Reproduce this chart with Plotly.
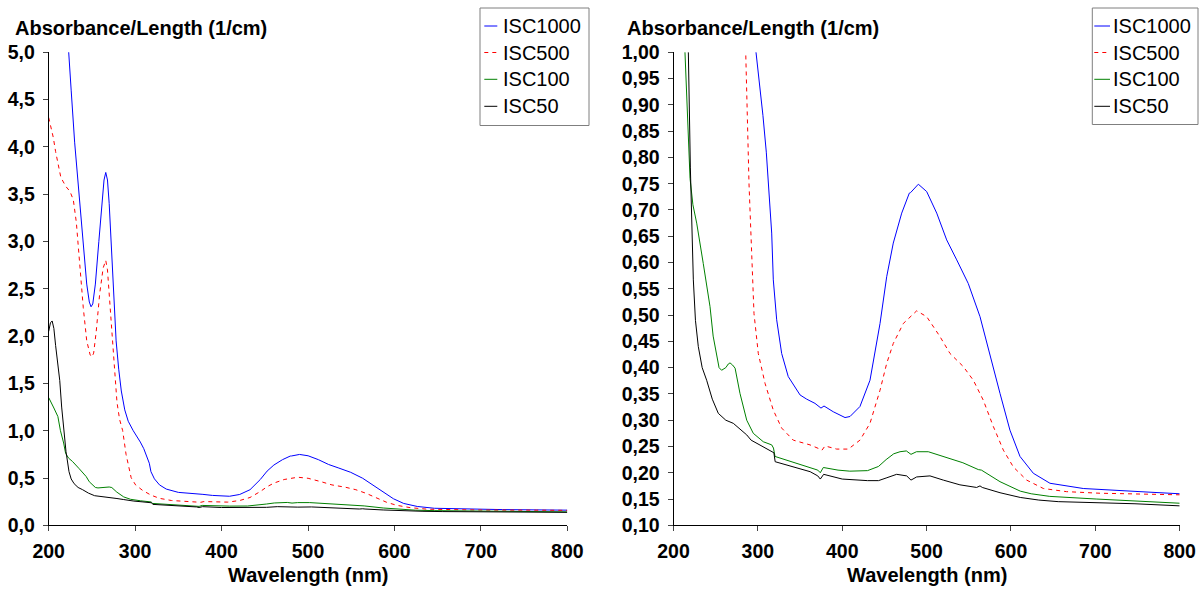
import plotly.graph_objects as go

# ---------------- data ----------------
series_names = ["ISC1000", "ISC500", "ISC100", "ISC50"]

wl_isc1000 = [221, 223.5, 226, 230, 236, 240, 244, 247, 249, 251, 254, 258, 262, 264, 266, 268, 270, 272,
              275, 278, 281, 284, 288, 292, 297.8, 302, 306, 310, 312.4, 316.4, 318.3, 322.3, 328.2, 336,
              350, 357.9, 367.7, 374.8, 378.4, 389.4, 403.3, 409.2, 421, 432.9, 444.8, 452.7, 460.5,
              470.5, 479.5, 481, 490.2, 500.1, 512, 523.8, 535.7, 549.4, 563.3, 575.1, 587, 598.8,
              610.7, 626.5, 646.2, 685.7, 725.3, 764.8, 800]
abs_isc1000 = [5.3, 5.0, 4.6, 4.05, 3.44, 2.95, 2.55, 2.36, 2.31, 2.34, 2.55, 3.0, 3.45, 3.65, 3.73, 3.65,
               3.4, 3.0, 2.4, 1.95, 1.65, 1.42, 1.22, 1.1, 1.0, 0.94, 0.88, 0.81, 0.757, 0.656, 0.567,
               0.491, 0.427, 0.383, 0.348, 0.340, 0.332, 0.323, 0.327, 0.316, 0.305, 0.307, 0.326, 0.376,
               0.484, 0.573, 0.637, 0.694, 0.732, 0.733, 0.749, 0.735, 0.694, 0.643, 0.605, 0.560, 0.497,
               0.427, 0.351, 0.281, 0.231, 0.199, 0.180, 0.170, 0.166, 0.163, 0.160]

wl_isc500 = [200, 203, 205.3, 208, 211.1, 214, 216.9, 220, 224.6, 228.5, 232, 236, 240, 244, 248, 250,
             252, 255, 259, 263, 266, 268, 270, 273, 276, 279, 282, 285.6, 289.5, 292.7, 295.4, 300.5,
             308.5, 318.3, 328.2, 342, 361.8, 373.6, 376, 379.6, 393.4, 407.2, 421, 432.9, 444.8, 452.7,
             460.5, 472.4, 488.2, 500.1, 515.9, 527.7, 543.5, 555.4, 567.2, 579.1, 591, 602.8, 618.6,
             638.4, 666, 705.6, 757, 800]
abs_isc500 = [4.31, 4.2, 4.1, 3.95, 3.79, 3.68, 3.63, 3.58, 3.53, 3.44, 3.2, 2.75, 2.3, 1.95, 1.8, 1.78,
              1.82, 2.05, 2.45, 2.72, 2.8, 2.7, 2.45, 2.0, 1.6, 1.3, 1.12, 1.0, 0.75, 0.63, 0.503, 0.427,
              0.370, 0.319, 0.285, 0.262, 0.253, 0.245, 0.243, 0.251, 0.245, 0.245, 0.262, 0.294, 0.357,
              0.408, 0.446, 0.484, 0.508, 0.497, 0.459, 0.427, 0.402, 0.376, 0.338, 0.288, 0.243, 0.211,
              0.186, 0.170, 0.164, 0.161, 0.160, 0.158]

wl_isc100 = [200, 203, 206, 210.6, 213.6, 217.3, 219.6, 223, 227.5, 235.3, 243.3, 247, 251.2, 254, 257,
             262, 265, 267, 270, 273, 278.8, 286.8, 294.6, 306.4, 316.4, 318.5, 320.3, 334, 357.9, 371,
             374, 377.6, 395, 409, 430, 443, 452, 461, 468.5, 476, 481.5, 488, 502, 520, 543, 561.3, 565,
             587, 611, 624, 646, 701, 747, 800]
abs_isc100 = [1.35, 1.3, 1.24, 1.15, 1.0, 0.87, 0.76, 0.71, 0.675, 0.598, 0.516, 0.46, 0.421, 0.40, 0.395,
              0.400, 0.407, 0.409, 0.405, 0.399, 0.351, 0.300, 0.275, 0.259, 0.253, 0.247, 0.231, 0.224,
              0.2115, 0.205, 0.200, 0.210, 0.205, 0.203, 0.204, 0.212, 0.225, 0.236, 0.240, 0.2415, 0.235,
              0.240, 0.240, 0.231, 0.219, 0.206, 0.205, 0.183, 0.165, 0.160, 0.155, 0.150, 0.146, 0.142]

wl_isc50 = [200, 202, 204, 206, 208, 210, 212.8, 215, 217.6, 220, 223.5, 226, 229.4, 234, 239.3, 246,
            253.1, 262, 270.9, 279, 286.8, 292, 298.6, 308, 316.4, 319, 320.5, 339, 362, 371, 374, 378,
            400, 430, 443, 452, 464.5, 476.4, 481.5, 488.2, 504, 519.8, 539.5, 559.3, 563.3, 566, 587,
            611, 633, 656, 701, 747, 800]
abs_isc50 = [2.05, 2.14, 2.16, 2.08, 1.9, 1.72, 1.53, 1.25, 1.0, 0.78, 0.567, 0.49, 0.44, 0.40, 0.376, 0.34,
             0.313, 0.300, 0.294, 0.283, 0.272, 0.262, 0.256, 0.248, 0.240, 0.238, 0.221, 0.213, 0.202,
             0.194, 0.188, 0.197, 0.188, 0.185, 0.185, 0.19, 0.197, 0.194, 0.186, 0.192, 0.194, 0.186,
             0.177, 0.172, 0.175, 0.172, 0.162, 0.153, 0.148, 0.145, 0.143, 0.141, 0.137]

x_ticks = [200, 300, 400, 500, 600, 700, 800]
y_title = "Absorbance/Length (1/cm)"
x_title = "Wavelength (nm)"

# ---------------- styling ----------------
W, H = 1199, 589
FONT = "Liberation Sans, Arial, sans-serif"
colors = ["#0000FF", "#FF0000", "#008000", "#000000"]
dashes = ["solid", "4px,4px", "solid", "solid"]
xs = [wl_isc1000, wl_isc500, wl_isc100, wl_isc50]
ys = [abs_isc1000, abs_isc500, abs_isc100, abs_isc50]


def px_x(p):
    return p / W


def px_y(p):
    return 1 - p / H


fig = go.Figure()
for panel, (xa, ya) in enumerate([("x", "y"), ("x2", "y2")]):
    for name, x, y, c, d in zip(series_names, xs, ys, colors, dashes):
        fig.add_trace(go.Scatter(x=x, y=y, name=name, mode="lines", xaxis=xa, yaxis=ya,
                                 line=dict(color=c, width=1, dash=d), showlegend=False,
                                 hoverinfo="x+y+name"))

ydom = [px_y(525.3), px_y(52.3)]
dom1 = [px_x(48.7), px_x(567.3)]
dom2 = [px_x(673.5), px_x(1179.7)]

tickfont = dict(family=FONT, size=19.5, color="black", weight="bold")
common = dict(showgrid=False, zeroline=False, automargin=False)
base_x = dict(common, range=[200, 800], tickvals=x_ticks, showline=True, linecolor="black", linewidth=1,
              ticks="outside", ticklen=5, tickcolor="#444", tickwidth=1, tickfont=tickfont,
              ticklabelstandoff=3)
base_y = dict(common, showline=True, linecolor="black", linewidth=1, ticks="outside", ticklen=5,
              tickcolor="#444", tickwidth=1, tickfont=tickfont, ticklabelstandoff=4)
inner = dict(common, ticks="inside", ticklen=5, tickcolor="#444", tickwidth=1, showticklabels=False,
             showline=False)

fig.update_layout(
    width=W, height=H, margin=dict(l=0, r=0, t=0, b=0, autoexpand=False),
    paper_bgcolor="white", plot_bgcolor="white", separators=",.",
    showlegend=False,
    xaxis=dict(base_x, domain=dom1, anchor="y"),
    yaxis=dict(base_y, domain=ydom, anchor="x", range=[0, 5], dtick=0.5, tick0=0, tickformat=".1f"),
    xaxis2=dict(base_x, domain=dom2, anchor="y2"),
    yaxis2=dict(base_y, domain=ydom, anchor="x2", range=[0.10, 1.00], dtick=0.05, tick0=0.10,
                tickformat=".2f"),
    # overlay axes that give the crossing (inside) half of each tick
    xaxis3=dict(inner, overlaying="x", anchor="y", side="bottom", range=[200, 800], tickvals=x_ticks),
    yaxis3=dict(inner, overlaying="y", anchor="x", side="left", range=[0, 5], dtick=0.5, tick0=0),
    xaxis4=dict(inner, overlaying="x2", anchor="y2", side="bottom", range=[200, 800], tickvals=x_ticks),
    yaxis4=dict(inner, overlaying="y2", anchor="x2", side="left", range=[0.10, 1.00], dtick=0.05,
                tick0=0.10),
)

annotations = []
shapes = []
title_font = dict(family=FONT, size=20, color="black", weight="bold")

# y-axis titles (horizontal, above each axis)
for x0 in (12.7, 625):
    annotations.append(dict(text=y_title, xref="paper", yref="paper", x=px_x(x0), y=px_y(27.5),
                            xanchor="left", yanchor="middle", showarrow=False, font=title_font))
# x-axis titles, centred under each axis
for xc in ((48.7 + 567.3) / 2, (673.5 + 1179.7) / 2):
    annotations.append(dict(text=x_title, xref="paper", yref="paper", x=px_x(xc), y=px_y(575),
                            xanchor="center", yanchor="middle", showarrow=False, font=title_font))

# boxed legends, one per panel
legend_boxes = [
    dict(box=(480, 8, 589, 125.5), line=(484.3, 497.3), text_x=501.5),
    dict(box=(1092.3, 8, 1198, 124.5), line=(1094.3, 1110), text_x=1112.3),
]
row_y = [26, 52.5, 79.3, 106.3]
for lg in legend_boxes:
    bx0, by0, bx1, by1 = lg["box"]
    shapes.append(dict(type="rect", xref="paper", yref="paper", x0=px_x(bx0), x1=px_x(bx1),
                       y0=px_y(by1), y1=px_y(by0), line=dict(color="#7f7f7f", width=1),
                       fillcolor="white", layer="above"))
    lx0, lx1 = lg["line"]
    for name, c, d, ry in zip(series_names, colors, dashes, row_y):
        shapes.append(dict(type="line", xref="paper", yref="paper", x0=px_x(lx0), x1=px_x(lx1),
                           y0=px_y(ry), y1=px_y(ry), line=dict(color=c, width=1,
                           dash="4px,4px" if d != "solid" else "solid"), layer="above"))
        annotations.append(dict(text=name, xref="paper", yref="paper", x=px_x(lg["text_x"]),
                                y=px_y(ry), xanchor="left", yanchor="middle", showarrow=False,
                                borderpad=0, font=dict(family=FONT, size=20, color="black")))

fig.update_layout(annotations=annotations, shapes=shapes)
fig.write_html(
    "out.html",
    config={"displayModeBar": False},
    post_script="document.body.style.margin='0';document.body.style.padding='0';"
                "document.body.style.overflow='hidden';",
)
